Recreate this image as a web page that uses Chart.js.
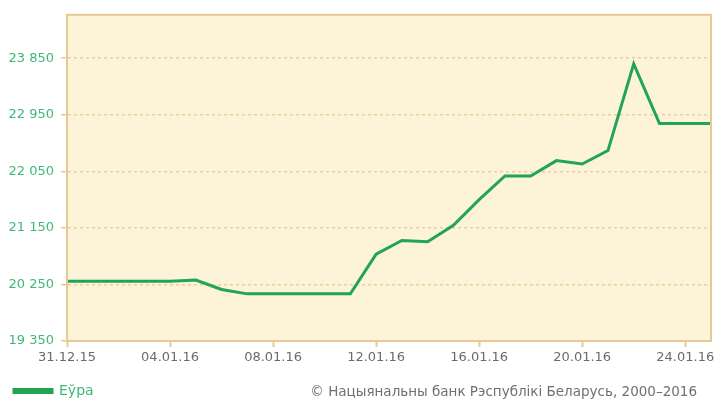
<!DOCTYPE html>
<html>
<head>
<meta charset="utf-8">
<script src="https://cdn.jsdelivr.net/npm/chart.js@4.4.0/dist/chart.umd.min.js"></script>
<style>
  body { margin: 0; background: #fff; }
  #wrap { position: relative; width: 719px; height: 412px; }
  #note { position: absolute; right: 22px; top: 383px; font: 13.5px "DejaVu Sans", sans-serif; color: #707070; white-space: nowrap; }
</style>
</head>
<body>
<div id="wrap">
  <canvas id="myChart" width="719" height="412"></canvas>
  <div id="note">© Нацыянальны банк Рэспублікі Беларусь, 2000–2016</div>
</div>
<script>
const dates = ['31.12.15','01.01.16','02.01.16','03.01.16','04.01.16','05.01.16','06.01.16','07.01.16','08.01.16',
  '09.01.16','10.01.16','11.01.16','12.01.16','13.01.16','14.01.16','15.01.16','16.01.16','17.01.16','18.01.16',
  '19.01.16','20.01.16','21.01.16','22.01.16','23.01.16','24.01.16','25.01.16'];
const euro = [20300, 20300, 20300, 20300, 20300, 20320, 20170, 20100, 20100,
  20100, 20100, 20100, 20730, 20950, 20930, 21190, 21600, 21975, 21975,
  22220, 22165, 22380, 23760, 22810, 22810, 22810];
const yTicks = [19350, 20250, 21150, 22050, 22950, 23850];

const tan = '#e8c994';
const green = '#1fa554';

const frame = {
    id: 'frame',
    beforeDraw(chart) {
        const a = chart.chartArea, c = chart.ctx;
        c.save();
        c.fillStyle = '#fdf3d9';
        c.fillRect(a.left, a.top, a.right - a.left, a.bottom - a.top);
        c.restore();
    },
    afterDraw(chart) {
        const a = chart.chartArea, c = chart.ctx;
        c.save();
        c.strokeStyle = tan;
        c.lineWidth = 2;
        c.setLineDash([]);
        c.strokeRect(a.left, a.top, a.right - a.left, a.bottom - a.top);
        c.restore();
    }
};

const ctx = document.getElementById('myChart').getContext('2d');
const myChart = new Chart(ctx, {
    type: 'line',
    data: {
        labels: dates,
        datasets: [{
            label: 'Еўра',
            data: euro,
            borderColor: green,
            backgroundColor: green,
            borderWidth: 3,
            pointRadius: 0,
            tension: 0
        }]
    },
    options: {
        responsive: false,
        animation: false,
        layout: { padding: { left: 4, right: 8, top: 12, bottom: 4 } },
        plugins: {
            legend: {
                position: 'bottom',
                align: 'start',
                labels: {
                    boxWidth: 38,
                    boxHeight: 3,
                    color: '#3db878',
                    font: { family: 'DejaVu Sans', size: 14 },
                    padding: 10
                }
            },
            tooltip: { enabled: false }
        },
        scales: {
            x: {
                afterFit(scale) { scale.height = 33; },
                grid: {
                    drawOnChartArea: false,
                    tickLength: 6,
                    tickWidth: 2,
                    tickColor: (c) => c.index % 4 === 0 ? tan : 'transparent'
                },
                border: { color: tan, width: 2 },
                ticks: {
                    autoSkip: false,
                    maxRotation: 0,
                    padding: 3,
                    color: '#6b6b6b',
                    font: { family: 'DejaVu Sans', size: 13 },
                    callback: (v, i) => i % 4 === 0 ? dates[i] : ''
                }
            },
            y: {
                min: 19350,
                max: 24540,
                afterFit(scale) { scale.width = 63; },
                afterBuildTicks(scale) { scale.ticks = yTicks.map(v => ({ value: v })); },
                grid: {
                    color: '#edcf9c',
                    lineWidth: 1.5,
                    tickLength: 6,
                    tickColor: tan,
                    tickWidth: 1.5,
                    tickBorderDash: []
                },
                border: { color: tan, width: 2, dash: [3, 3] },
                ticks: {
                    padding: 7,
                    color: '#3db878',
                    font: { family: 'DejaVu Sans', size: 13 },
                    callback: (v) => String(v).replace(/\B(?=(\d{3})+(?!\d))/g, ' ')
                }
            }
        }
    },
    plugins: [frame]
});
</script>
</body>
</html>
